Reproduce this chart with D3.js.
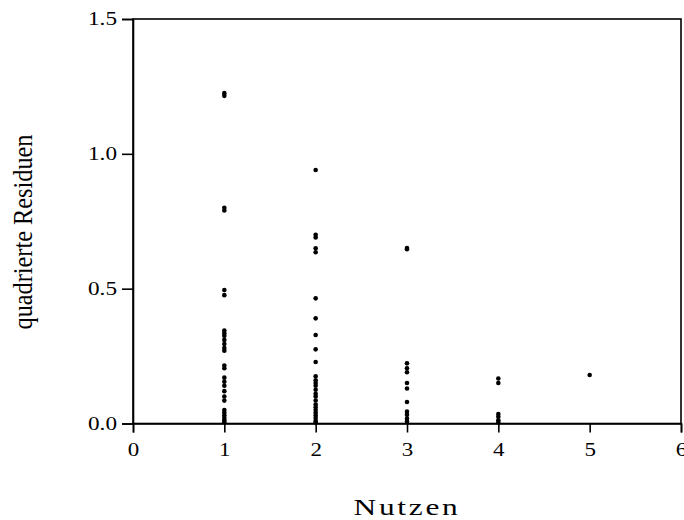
<!DOCTYPE html>
<html>
<head>
<meta charset="utf-8">
<script src="https://d3js.org/d3.v7.min.js"></script>
<style>
  body { margin: 0; background: #fff; }
  text { font-family: "Liberation Serif", "DejaVu Serif", serif; }
</style>
</head>
<body>
<svg id="plot"></svg>
<script>
// squared residuals per "Nutzen" level
var nutzen1 = [1.225, 1.215, 0.80, 0.79, 0.495, 0.476, 0.345, 0.335, 0.325, 0.31, 0.295,
               0.28, 0.27, 0.215, 0.205, 0.17, 0.155, 0.14, 0.12, 0.10, 0.085, 0.05,
               0.04, 0.03, 0.02, 0.012, 0.005];
var nutzen2 = [0.94, 0.70, 0.69, 0.65, 0.635, 0.464, 0.39, 0.328, 0.275, 0.228, 0.175,
               0.16, 0.15, 0.14, 0.125, 0.11, 0.10, 0.085, 0.07, 0.06, 0.05, 0.04,
               0.03, 0.02, 0.01, 0.004];
var nutzen3 = [0.651, 0.646, 0.223, 0.205, 0.19, 0.15, 0.13, 0.08, 0.044, 0.032, 0.018, 0.007];
var nutzen4 = [0.167, 0.15, 0.035, 0.025, 0.012, 0.004];
var nutzen5 = [0.18];

var xTicks = [0, 1, 2, 3, 4, 5, 6];
var yTicks = [0, 0.5, 1.0, 1.5];

var groups = [nutzen1, nutzen2, nutzen3, nutzen4, nutzen5];
var points = [];
groups.forEach(function(vals, i) {
    vals.forEach(function(v) { points.push({x: i + 1, y: v}); });
});

var width = 684, height = 520;
var plotLeft = 133, plotRight = 681, plotTop = 19, plotBottom = 423.5;

var svg = d3.select("#plot")
    .attr("width", width)
    .attr("height", height);

var xScale = d3.scaleLinear().domain([0, 6]).range([plotLeft, plotRight]);
var yScale = d3.scaleLinear().domain([0, 1.5]).range([plotBottom, plotTop]);

// frame
svg.append("rect")
    .attr("x", plotLeft).attr("y", plotTop)
    .attr("width", plotRight - plotLeft).attr("height", plotBottom - plotTop)
    .attr("fill", "none").attr("stroke", "#000").attr("stroke-width", 1.6);

var xAxis = svg.append("g")
    .attr("transform", "translate(0," + plotBottom + ")")
    .call(d3.axisBottom(xScale).tickValues(xTicks).tickSize(9).tickPadding(11)
        .tickFormat(d3.format("d")));

var yAxis = svg.append("g")
    .attr("transform", "translate(" + plotLeft + ",0)")
    .call(d3.axisLeft(yScale).tickValues(yTicks).tickSize(11).tickPadding(5)
        .tickFormat(d3.format(".1f")));

[xAxis, yAxis].forEach(function(ax) {
    ax.attr("font-size", null).attr("font-family", null);
    ax.select(".domain").attr("stroke-width", 1.6);
    ax.selectAll(".tick line").attr("stroke-width", 1.6);
    ax.selectAll("text").style("font-size", "18px").attr("fill", "#000")
        .attr("lengthAdjust", "spacingAndGlyphs");
});
// the original's digits are drawn a bit wider than plain Times
xAxis.selectAll("text").attr("textLength", 11.5);
yAxis.selectAll("text").attr("textLength", 29);

//dots
svg.selectAll("circle.pt")
    .data(points)
    .enter()
    .append("circle")
    .attr("class", "pt")
    .attr("cx", function(d) { return xScale(d.x); })
    .attr("cy", function(d) { return yScale(d.y); })
    .attr("r", 2.3)
    .attr("fill", "#000");

// axis titles
svg.append("text")
    .attr("x", (plotLeft + plotRight) / 2)
    .attr("y", 515)
    .attr("text-anchor", "middle")
    .attr("textLength", 107)
    .attr("lengthAdjust", "spacingAndGlyphs")
    .style("font-size", "23px")
    .style("letter-spacing", "2px")
    .text("Nutzen");

svg.append("text")
    .attr("transform", "translate(32,232) rotate(-90)")
    .attr("text-anchor", "middle")
    .attr("textLength", 195)
    .attr("lengthAdjust", "spacingAndGlyphs")
    .style("font-size", "28px")
    .text("quadrierte Residuen");
</script>
</body>
</html>
